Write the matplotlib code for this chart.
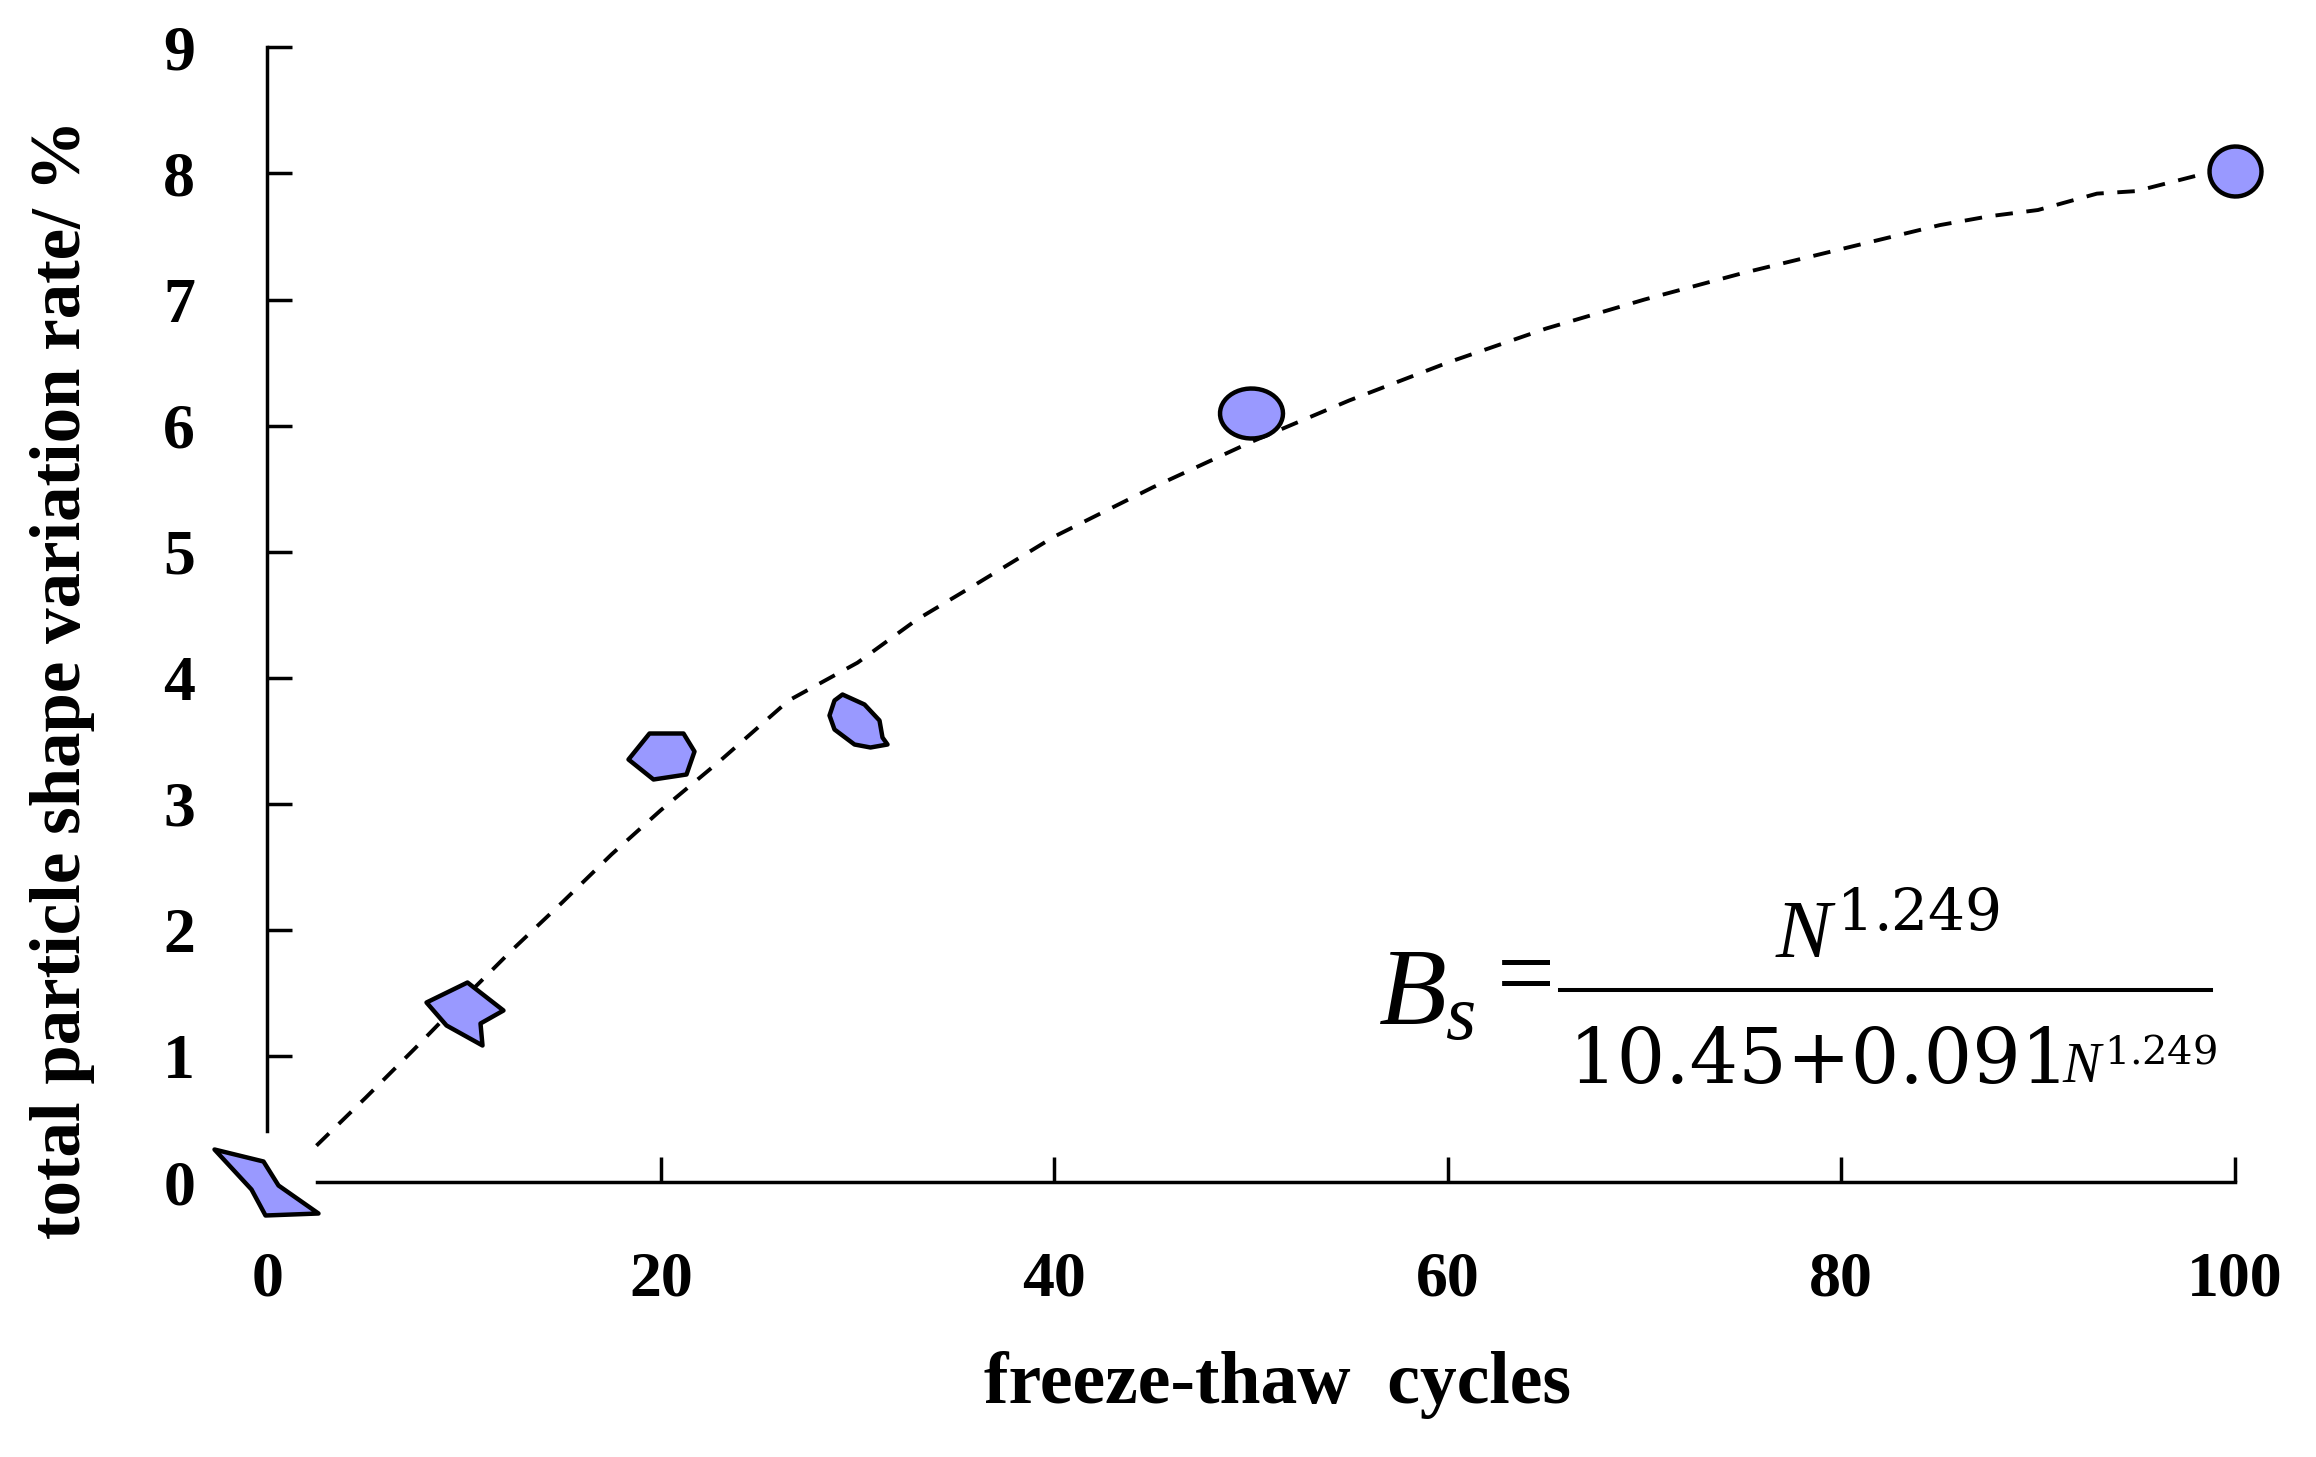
import matplotlib.pyplot as plt
import numpy as np
from matplotlib.lines import Line2D
from matplotlib.path import Path

plt.rcParams["font.family"] = ["Liberation Serif", "DejaVu Serif"]
plt.rcParams["mathtext.fontset"] = "custom"
plt.rcParams["mathtext.rm"] = "DejaVu Serif"
plt.rcParams["mathtext.it"] = "Liberation Serif:italic"

# measured points (one particle outline per point)
cycles = [0, 10, 20, 30, 50, 100]
shape_rate = [0.0, 1.35, 3.38, 3.65, 6.10, 8.02]

# dashed fitted curve
fit_cycles = [2.5, 5, 7.5, 10, 12.5, 15, 17.5, 20, 23, 26.5, 30, 33, 36, 40,
              45, 50, 55, 60, 65, 70, 75, 80, 85, 87.5, 90, 93, 95, 98.5]
fit_rate = [0.29, 0.67, 1.06, 1.46, 1.85, 2.22, 2.60, 2.95, 3.34, 3.82, 4.12,
            4.46, 4.74, 5.12, 5.51, 5.87, 6.20, 6.50, 6.77, 7.00, 7.21, 7.40,
            7.59, 7.66, 7.71, 7.84, 7.86, 8.00]

x_ticks = [0, 20, 40, 60, 80, 100]
y_ticks = [0, 1, 2, 3, 4, 5, 6, 7, 8, 9]


def ellipse(w, h, n=48):
    t = np.linspace(0, 2 * np.pi, n)
    return np.column_stack((w / 2 * np.cos(t), h / 2 * np.sin(t)))


# particle outlines, in pixels around the point (y up)
outlines = [
    np.array([(-53, 33), (-4, 21), (11, -3), (51, -31), (-2, -33), (-16, -7)]),
    np.array([(-38, 10), (3, 30), (39, 2), (16, -11), (18, -33), (-18, -13)]),
    np.array([(-33, -3), (-12, 23), (22, 23), (33, 5), (25, -18), (-8, -23)]),
    np.array([(-15, 28), (7, 18), (22, 2), (25, -15), (30, -22), (13, -25),
              (-3, -22), (-23, -7), (-28, 7), (-23, 22)]),
    ellipse(63, 50),
    ellipse(52, 50),
]

fig = plt.figure(figsize=(23.16, 14.57), dpi=100)
ax = fig.add_axes([0.1154, 0.1886, 0.8495, 0.7789])

ax.plot(fit_cycles, fit_rate, color="black", lw=2.8, dashes=(4.5, 3.5),
        zorder=2, clip_on=False)

for x, y, verts in zip(cycles, shape_rate, outlines):
    closed = np.vstack((verts, verts[:1]))
    r = np.max(np.abs(closed))
    ax.plot(x, y, marker=Path(closed, closed=True), ms=1.44 * r,
            mfc="#9999ff", mec="black", mew=3.2, ls="none",
            zorder=3, clip_on=False)

ax.set_xlim(0, 100)
ax.set_ylim(0, 9)
ax.set_xticks(x_ticks)
ax.set_yticks(y_ticks)

for side in ["top", "right"]:
    ax.spines[side].set_visible(False)
for side in ["left", "bottom"]:
    ax.spines[side].set_linewidth(2.5)
ax.spines["left"].set_bounds(0.41, 9)
ax.spines["bottom"].set_bounds(2.55, 100)

ax.tick_params(direction="in", length=18, width=2.5, labelsize=46)
ax.tick_params(axis="y", pad=52)
ax.tick_params(axis="x", pad=50)
ax.xaxis.get_major_ticks()[0].tick1line.set_visible(False)
ax.yaxis.get_major_ticks()[0].tick1line.set_visible(False)
for lbl in ax.get_xticklabels() + ax.get_yticklabels():
    lbl.set_fontweight("bold")

fig.text(0.5517, 0.0497, "freeze-thaw  cycles", fontsize=53,
         fontweight="bold", ha="center", va="center")
fig.text(0.0268, 0.5335, "total particle shape variation rate/ %",
         fontsize=51, fontweight="bold", rotation=90,
         ha="center", va="center")

# fitted formula
fig.text(0.595, 0.2965, "$B_s$", fontsize=80, ha="left", va="baseline")
fig.text(0.659, 0.308, "=", fontsize=74, ha="center", va="baseline")
fig.add_artist(Line2D([0.6736, 0.9547], [0.3205, 0.3205], color="black",
                      lw=2.9, transform=fig.transFigure))
fig.text(0.8152, 0.3432, "$N^{1.249}$", fontsize=60, ha="center",
         va="baseline")
fig.text(0.6773, 0.2567, "10.45+0.091", fontsize=55, ha="left",
         va="baseline", family="DejaVu Serif")
fig.text(0.8902, 0.2567, "$N^{1.249}$", fontsize=41, ha="left",
         va="baseline")

fig.savefig("out.png", dpi=100, facecolor="white")
